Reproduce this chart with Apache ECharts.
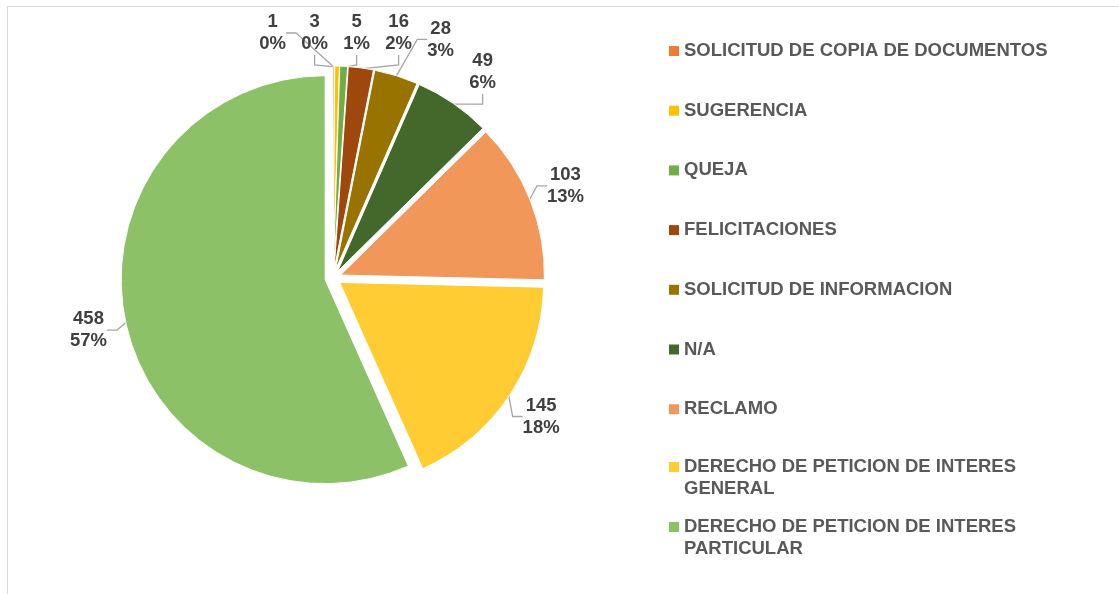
<!DOCTYPE html>
<html>
<head>
<meta charset="utf-8">
<title>PQRS por tipo</title>
<script src="https://cdn.jsdelivr.net/npm/echarts@6/dist/echarts.min.js"></script>
<style>
  html, body { margin: 0; padding: 0; background: #fff; }
  #chart { width: 1119px; height: 594px; }
</style>
</head>
<body>
<div id="chart"></div>
<script>
// datos
const categories = [
  'SOLICITUD DE COPIA DE DOCUMENTOS',
  'SUGERENCIA',
  'QUEJA',
  'FELICITACIONES',
  'SOLICITUD DE INFORMACION',
  'N/A',
  'RECLAMO',
  'DERECHO DE PETICION DE INTERES\nGENERAL',
  'DERECHO DE PETICION DE INTERES\nPARTICULAR'
]
const counts = [1, 3, 5, 16, 28, 49, 103, 145, 458]
const colors = ['#ED7D31', '#FFC000', '#70AD47', '#9E480E', '#997300', '#43682B', '#F1975A', '#FFCD33', '#8CC168']

const FONT = '"Liberation Sans", Arial, sans-serif'
const CX = 333
const CY = 278
const RADIUS = 204
const EXPLODE = 8
const LABEL_R = 250
const LABEL_GAP = 42

// etiquetas afuera del pastel, como en excel
const total = counts.reduce((a, b) => a + b, 0)
let acc = 0
const labelPos = counts.map(v => {
  const mid = (acc + v / 2) / total * 2 * Math.PI
  acc += v
  return [CX + LABEL_R * Math.sin(mid), Math.max(CY - LABEL_R * Math.cos(mid), 33)]
})
// separar las que se pisan (vecinas en orden, sin cambiar el orden)
for (let it = 0; it < 200; it++) {
  for (let i = 0; i < labelPos.length - 1; i++) {
    const a = labelPos[i]
    const b = labelPos[i + 1]
    const dx = b[0] - a[0]
    if (Math.abs(b[1] - a[1]) < 44 && dx < LABEL_GAP) {
      const push = (LABEL_GAP - dx) / 2
      a[0] -= push
      b[0] += push
    }
  }
}

const legendText = { fontFamily: FONT, fontSize: 18.5, fontWeight: 'bold', color: '#595959', lineHeight: 22 }
const wrappedText = Object.assign({}, legendText, { padding: [22, 0, 0, 0], rich: { t: legendText }})
const legendBase = {
  orient: 'vertical',
  left: 669,
  padding: 0,
  icon: 'rect',
  itemWidth: 10,
  itemHeight: 10,
  itemStyle: { borderWidth: 0 },
  selectedMode: false
}

const pieData = categories.map((name, i) => ({ name: name, value: counts[i] }))

const chart = echarts.init(document.getElementById('chart'))
chart.setOption({
  animation: false,
  color: colors,
  graphic: [{
    type: 'rect',
    silent: true,
    z: -1,
    shape: { x: 7.5, y: 6.5, width: 1200, height: 700 },
    style: { fill: 'none', stroke: '#d9d9d9', lineWidth: 1 }
  }],
  legend: [
    Object.assign({}, legendBase, { data: categories.slice(0, 7), top: 40, itemGap: 37.7, textStyle: legendText }),
    Object.assign({}, legendBase, { data: [categories[7]], top: 434, formatter: n => '{t|' + n + '}', textStyle: wrappedText }),
    Object.assign({}, legendBase, { data: [categories[8]], top: 494, formatter: n => '{t|' + n + '}', textStyle: wrappedText })
  ],
  series: [
    {
      // pastel con todas las porciones separadas
      type: 'pie',
      z: 3,
      center: [CX, CY],
      radius: RADIUS,
      startAngle: 90,
      clockwise: true,
      selectedMode: 'multiple',
      selectedOffset: EXPLODE,
      itemStyle: { borderColor: '#fff', borderWidth: 1 },
      select: { itemStyle: { borderColor: '#fff', borderWidth: 1 } },
      emphasis: { disabled: true },
      label: { show: false },
      labelLine: { show: false },
      data: pieData.map(d => Object.assign({ selected: true }, d))
    },
    {
      // solo etiquetas (porciones transparentes, debajo)
      type: 'pie',
      z: 2,
      silent: true,
      center: [CX, CY],
      radius: RADIUS + EXPLODE - 1,
      startAngle: 90,
      clockwise: true,
      percentPrecision: 0,
      avoidLabelOverlap: false,
      itemStyle: { color: 'rgba(0,0,0,0)', borderWidth: 0 },
      emphasis: { disabled: true },
      label: {
        show: true,
        position: 'outside',
        formatter: '{c}\n{d}%',
        fontFamily: FONT,
        fontSize: 18.5,
        fontWeight: 'bold',
        color: '#404040',
        lineHeight: 22
      },
      labelLine: {
        show: true,
        length: 10,
        length2: 10,
        lineStyle: { color: '#A6A6A6', width: 1.3, opacity: 1 }
      },
      labelLayout: params => ({
        x: labelPos[params.dataIndex][0],
        y: labelPos[params.dataIndex][1],
        align: 'center',
        verticalAlign: 'middle'
      }),
      data: pieData
    }
  ]
})
</script>
</body>
</html>
